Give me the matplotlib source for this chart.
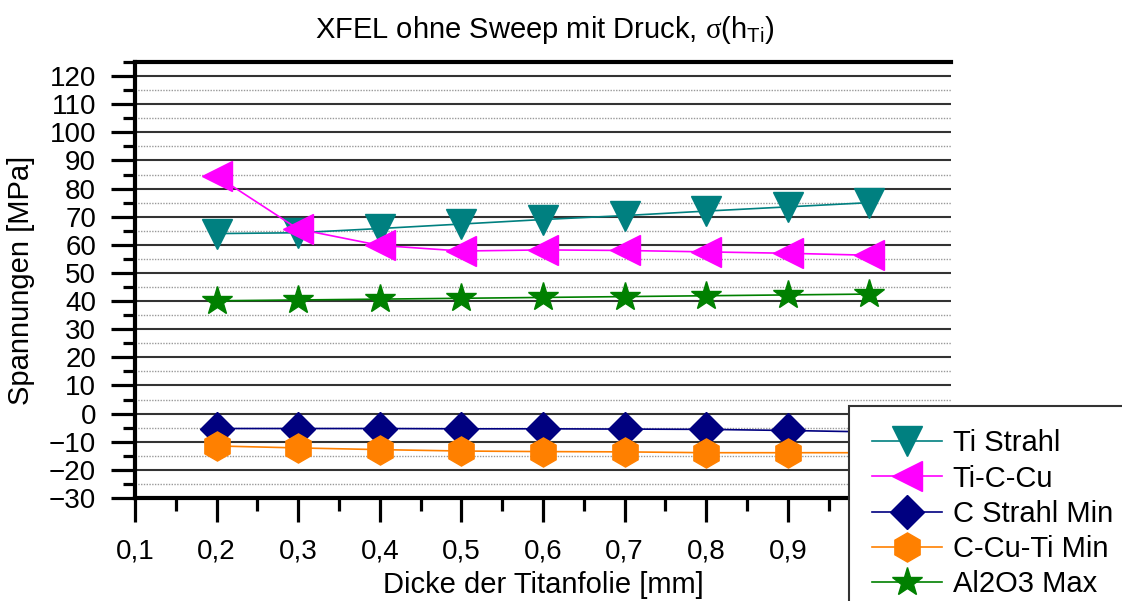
import numpy as np
import matplotlib
matplotlib.use("Agg")
import matplotlib.pyplot as plt
from matplotlib.ticker import MultipleLocator, FuncFormatter

plt.rcParams['font.family'] = ['Liberation Sans', 'DejaVu Sans']
plt.rcParams['mathtext.fontset'] = 'custom'
plt.rcParams['mathtext.rm'] = 'Liberation Sans'
plt.rcParams['mathtext.it'] = 'Liberation Serif'

# Dicke der Titanfolie [mm]
dicke = [0.2, 0.3, 0.4, 0.5, 0.6, 0.7, 0.8, 0.9, 1.0]

# Spannungen [MPa]
ti_strahl = [64.0, 64.3, 65.8, 67.4, 69.0, 70.4, 72.0, 73.5, 75.0]
ti_c_cu = [84.5, 65.6, 59.8, 57.8, 58.2, 58.0, 57.5, 57.0, 56.3]
c_strahl_min = [-5.3, -5.3, -5.3, -5.4, -5.4, -5.5, -5.6, -6.0, -6.5]
c_cu_ti_min = [-11.5, -12.2, -12.8, -13.3, -13.5, -13.6, -13.9, -13.9, -13.9]
al2o3_max = [40.1, 40.4, 40.7, 41.0, 41.3, 41.6, 41.9, 42.2, 42.5]

serien = [
    ("Ti Strahl", ti_strahl, "#008080", "v", 22),
    ("Ti-C-Cu", ti_c_cu, "#FF00FF", "<", 22),
    ("C Strahl Min", c_strahl_min, "#000080", "D", 17),
    ("C-Cu-Ti Min", c_cu_ti_min, "#FF8000", "h", 21),
    ("Al2O3 Max", al2o3_max, "#008000", "*", 22),
]


def komma(v, pos):
    # Beschriftungen ab 1,0 liegen unter der Legende
    if v > 0.95:
        return ""
    return f"{v:.1f}".replace(".", ",")


fig = plt.figure(figsize=(11.22, 6.01), dpi=100)
ax = fig.add_axes([135 / 1122, 1 - 498 / 601, (951 - 135) / 1122, (498 - 62) / 601])

for name, werte, farbe, marker, ms in serien:
    ax.plot(dicke, werte, color=farbe, lw=1.2, marker=marker, ms=ms,
            mfc=farbe, mec=farbe, label=name, zorder=3)

ax.set_xlim(0.1, 1.1)
ax.set_ylim(-30, 125)
ax.xaxis.set_major_locator(MultipleLocator(0.1))
ax.xaxis.set_minor_locator(MultipleLocator(0.05))
ax.yaxis.set_major_locator(MultipleLocator(10))
ax.yaxis.set_minor_locator(MultipleLocator(5))
ax.set_yticks(np.arange(-30, 121, 10))
ax.xaxis.set_major_formatter(FuncFormatter(komma))

ax.grid(which='major', axis='y', color='#333333', lw=1.5, ls='-', zorder=1)
ax.grid(which='minor', axis='y', color='#999999', lw=1.0, ls=(0, (1, 1)), zorder=1)
ax.set_axisbelow(True)

for s in ['left', 'bottom', 'top']:
    ax.spines[s].set_linewidth(3)
ax.spines['right'].set_visible(False)

ax.tick_params(which='major', direction='out', length=17, width=2.3, labelsize=20)
ax.tick_params(axis='y', which='major', pad=11)
ax.tick_params(axis='x', which='major', pad=12)
ax.tick_params(which='minor', direction='out', length=9, width=2.3)
ax.tick_params(axis='x', which='both', top=False)

ax.set_xlabel("Dicke der Titanfolie [mm]", fontsize=21, labelpad=5)
ax.set_ylabel("Spannungen [MPa]", fontsize=21, labelpad=10)
fig.suptitle(r"XFEL ohne Sweep mit Druck, $\it{\sigma}$(h$_{\mathregular{Ti}}$)",
             x=545 / 1122, y=1 - 14 / 601, va='top', fontsize=21)

leg = fig.legend(loc='upper left', bbox_to_anchor=(849 / 1122, 1 - 406 / 601),
                 fontsize=21, frameon=True, fancybox=False, framealpha=1,
                 borderpad=0.8, handlelength=2.4, labelspacing=0.25,
                 handletextpad=0.35, borderaxespad=0)
leg.get_frame().set_edgecolor('#333333')
leg.get_frame().set_linewidth(1.5)

fig.savefig("out.png", dpi=100)
